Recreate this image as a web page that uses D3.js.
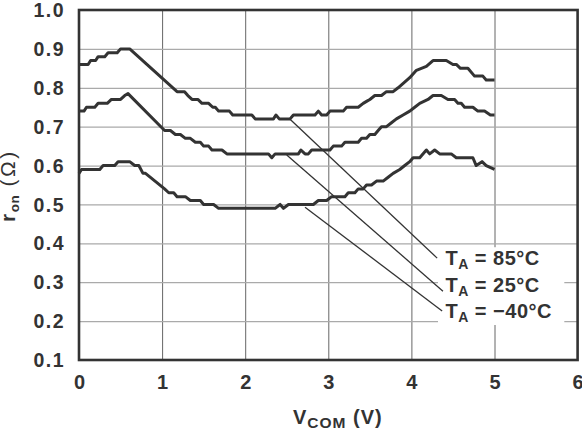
<!DOCTYPE html>
<html>
<head>
<meta charset="utf-8">
<script src="https://cdn.jsdelivr.net/npm/d3@7"></script>
<style>
    body { margin: 0; background: #fff; }
    text { font-family: "Liberation Sans", Arial, sans-serif; font-weight: bold; fill: #333; }
</style>
</head>
<body>
<div id="graph"></div>
<script>
// r_on vs V_COM, one array of [V, ohm] pairs per temperature
const t85 = [[0,0.86],[0.11,0.86],[0.14,0.87],[0.2,0.87],[0.23,0.88],[0.31,0.88],[0.35,0.89],[0.46,0.89],[0.5,0.90],[0.61,0.90],
    [1.13,0.80],[1.18,0.79],[1.27,0.79],[1.31,0.78],[1.36,0.77],[1.43,0.77],[1.48,0.76],[1.56,0.76],[1.61,0.75],[1.64,0.75],
    [1.68,0.74],[1.81,0.74],[1.85,0.73],[2.08,0.73],[2.12,0.72],[2.34,0.72],[2.37,0.73],[2.41,0.72],[2.54,0.72],[2.58,0.73],
    [2.84,0.73],[2.88,0.74],[2.92,0.73],[2.98,0.73],[3.02,0.74],[3.18,0.74],[3.22,0.75],[3.36,0.75],[3.42,0.76],[3.46,0.765],
    [3.5,0.77],[3.56,0.78],[3.64,0.78],[3.7,0.79],[3.78,0.79],[3.84,0.80],[3.98,0.826],[4.06,0.845],[4.12,0.85],[4.18,0.855],
    [4.26,0.87],[4.42,0.87],[4.5,0.86],[4.54,0.86],[4.59,0.85],[4.68,0.85],[4.76,0.83],[4.86,0.83],[4.9,0.82],[5.0,0.82]];

const t25 = [[0,0.74],[0.06,0.74],[0.09,0.75],[0.19,0.75],[0.23,0.76],[0.34,0.76],[0.39,0.77],[0.5,0.77],[0.55,0.78],[0.59,0.785],
    [1.03,0.69],[1.1,0.69],[1.16,0.68],[1.22,0.68],[1.28,0.67],[1.34,0.67],[1.4,0.66],[1.46,0.66],[1.5,0.65],[1.56,0.65],
    [1.6,0.64],[1.72,0.64],[1.78,0.63],[2.28,0.63],[2.32,0.62],[2.36,0.63],[2.64,0.63],[2.67,0.64],[2.72,0.63],[2.76,0.63],
    [2.8,0.64],[3.02,0.64],[3.06,0.65],[3.16,0.65],[3.2,0.66],[3.36,0.66],[3.4,0.67],[3.46,0.67],[3.5,0.68],[3.56,0.68],
    [3.6,0.69],[3.64,0.70],[3.7,0.70],[3.76,0.71],[3.82,0.72],[3.9,0.73],[3.98,0.74],[4.04,0.75],[4.1,0.76],[4.2,0.77],
    [4.26,0.78],[4.36,0.78],[4.44,0.77],[4.52,0.77],[4.56,0.76],[4.6,0.76],[4.64,0.75],[4.74,0.75],[4.8,0.74],[4.88,0.74],
    [4.95,0.73],[5.0,0.73]];

const tm40 = [[0,0.58],[0.03,0.59],[0.25,0.59],[0.29,0.60],[0.43,0.60],[0.47,0.61],[0.61,0.61],[0.67,0.60],[0.72,0.60],[0.77,0.58],
    [0.8,0.58],[1.03,0.54],[1.08,0.53],[1.14,0.53],[1.18,0.52],[1.28,0.52],[1.34,0.51],[1.46,0.51],[1.5,0.50],[1.62,0.50],
    [1.68,0.49],[2.36,0.49],[2.42,0.50],[2.46,0.49],[2.52,0.50],[2.82,0.50],[2.88,0.51],[2.98,0.51],[3.04,0.52],[3.2,0.52],
    [3.24,0.53],[3.32,0.53],[3.36,0.54],[3.42,0.54],[3.46,0.55],[3.52,0.55],[3.58,0.56],[3.66,0.56],[3.72,0.57],[3.78,0.58],
    [3.86,0.59],[3.92,0.60],[3.98,0.61],[4.02,0.62],[4.1,0.62],[4.18,0.64],[4.22,0.63],[4.28,0.64],[4.34,0.63],[4.48,0.63],
    [4.54,0.62],[4.74,0.62],[4.78,0.60],[4.85,0.61],[4.9,0.60],[5.0,0.59]];

const xTicks = [0, 1, 2, 3, 4, 5, 6];
const yTicks = [0.1, 0.2, 0.3, 0.4, 0.5, 0.6, 0.7, 0.8, 0.9, 1.0];

// legend labels with their leader line (from the curve to the label) in data units
const labelTemps = ['85°C', '25°C', '\u221240°C'];
const labelPos = [[4.41, 0.344], [4.41, 0.274], [4.41, 0.207]];
const leaderFrom = [[2.54, 0.719], [2.50, 0.627], [2.72, 0.493]];
const leaderTo = [[4.31, 0.362], [4.38, 0.277], [4.37, 0.226]];

const svgWidth = 582;
const svgHeight = 430;

const svg = d3.select('#graph')
    .append('svg')
    .attr('width', svgWidth)
    .attr('height', svgHeight);

const xScale = d3.scaleLinear().domain([0, 6]).range([79, 577.6]);
const yScale = d3.scaleLinear().domain([0.1, 1.0]).range([360, 10]);

// grid lines
svg.append('g')
    .attr('transform', 'translate(0, 360)')
    .call(d3.axisBottom(xScale).tickValues(xTicks.slice(1, -1)).tickSize(-350).tickFormat(''))
    .call(g => g.select('.domain').remove())
    .call(g => g.selectAll('line').attr('stroke', '#666').attr('stroke-width', 1));

svg.append('g')
    .attr('transform', 'translate(79, 0)')
    .call(d3.axisLeft(yScale).tickValues(yTicks.slice(1, -1)).tickSize(-498.6).tickFormat(''))
    .call(g => g.select('.domain').remove())
    .call(g => g.selectAll('line').attr('stroke', '#aaa').attr('stroke-width', 1.2));

// white box behind the labels
svg.append('rect')
    .attr('x', xScale(4.32))
    .attr('y', yScale(0.39))
    .attr('width', xScale(5.84) - xScale(4.32))
    .attr('height', yScale(0.19) - yScale(0.39))
    .attr('fill', '#fff');

// frame
svg.append('rect')
    .attr('x', xScale(0))
    .attr('y', yScale(1.0))
    .attr('width', xScale(6) - xScale(0))
    .attr('height', yScale(0.1) - yScale(1.0))
    .attr('fill', 'none')
    .attr('stroke', '#333')
    .attr('stroke-width', 2.6);

// tick labels
svg.append('g')
    .attr('transform', 'translate(79, 0)')
    .call(d3.axisLeft(yScale).tickValues(yTicks).tickSize(0).tickPadding(14).tickFormat(d3.format('.1f')))
    .call(g => g.select('.domain').remove())
    .call(g => g.selectAll('text').attr('font-size', 19.5).attr('dy', '0.34em').attr('letter-spacing', 1.5)
        .style('font-family', '"Liberation Sans", Arial, sans-serif').style('font-weight', 'bold').attr('fill', '#333'));

svg.append('g')
    .attr('transform', 'translate(0, 360)')
    .call(d3.axisBottom(xScale).tickValues(xTicks).tickSize(0).tickPadding(15).tickFormat(d3.format('d')))
    .call(g => g.select('.domain').remove())
    .call(g => g.selectAll('text').attr('font-size', 20)
        .style('font-family', '"Liberation Sans", Arial, sans-serif').style('font-weight', 'bold').attr('fill', '#333'));

// curves
const line = d3.line()
    .x(d => xScale(d[0]))
    .y(d => yScale(d[1]));

svg.selectAll('path.curve')
    .data([t85, t25, tm40])
    .enter()
    .append('path')
    .attr('class', 'curve')
    .attr('d', line)
    .attr('fill', 'none')
    .attr('stroke', '#333')
    .attr('stroke-width', 3)
    .attr('stroke-linejoin', 'round');

// leader lines
svg.selectAll('line.leader')
    .data(leaderFrom)
    .enter()
    .append('line')
    .attr('class', 'leader')
    .attr('x1', d => xScale(d[0]))
    .attr('y1', d => yScale(d[1]))
    .attr('x2', (d, i) => xScale(leaderTo[i][0]))
    .attr('y2', (d, i) => yScale(leaderTo[i][1]))
    .attr('stroke', '#333')
    .attr('stroke-width', 1.3);

// labels T_A = ...
const labels = svg.selectAll('text.label')
    .data(labelTemps)
    .enter()
    .append('text')
    .attr('class', 'label')
    .attr('x', (d, i) => xScale(labelPos[i][0]))
    .attr('y', (d, i) => yScale(labelPos[i][1]))
    .attr('font-size', 20)
    .attr('letter-spacing', 0.5);
labels.append('tspan').text('T');
labels.append('tspan').text('A').attr('font-size', 14).attr('dy', 4);
labels.append('tspan').text(d => ' = ' + d).attr('dy', -4);

// axis titles
const xTitle = svg.append('text')
    .attr('x', 293)
    .attr('y', 424)
    .attr('font-size', 20)
    .attr('letter-spacing', 1);
xTitle.append('tspan').text('V');
xTitle.append('tspan').text('COM').attr('font-size', 15.5).attr('dy', 4);
xTitle.append('tspan').text(' (V)').attr('dy', -4);

const yTitle = svg.append('text')
    .attr('transform', 'translate(15, 222) rotate(-90)')
    .attr('font-size', 21);
yTitle.append('tspan').text('r').attr('letter-spacing', 1.5);
yTitle.append('tspan').text('on').attr('font-size', 13.5).attr('dy', 4).attr('letter-spacing', 0.5);
yTitle.append('tspan').text(' (\u03A9)').attr('dy', -4).attr('letter-spacing', 2.5).style('font-weight', 'normal');
</script>
</body>
</html>
